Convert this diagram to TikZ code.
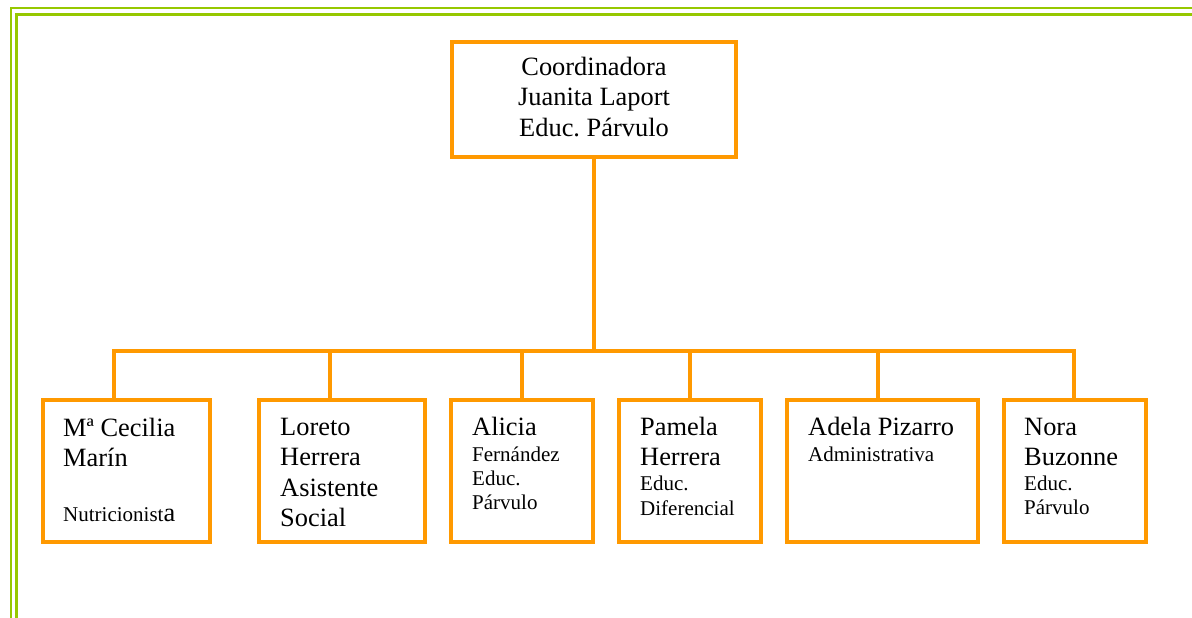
\documentclass[tikz,border=0pt]{standalone}
\usepackage{fontspec}
\setmainfont{Liberation Serif}
\frenchspacing
\definecolor{orgline}{RGB}{255,153,0}
\definecolor{grnline}{RGB}{150,200,0}
\newcommand\smtxt{\fontsize{21}{24}\selectfont}
\newcommand\lgtxt{\fontsize{26.4}{30.4}\selectfont}
\begin{document}
\begin{tikzpicture}[x=1pt,y=-1pt,
  box/.style={draw=orgline, line width=4pt, rectangle, inner sep=0pt, outer sep=0pt, anchor=north west},
  conn/.style={draw=orgline, line width=3.2pt, line join=miter},
  frame/.style={draw=grnline, line width=2.8pt},
  txt/.style={inner sep=0pt, anchor=north west, align=left, font=\lgtxt\frenchspacing, text=black},
  ttxt/.style={inner sep=0pt, anchor=north, align=center, font=\lgtxt\frenchspacing, text=black}]
\useasboundingbox (0,0) rectangle (1192,618);
% decorative page border
\draw[frame] (1192,8) -- (11,8) -- (11,618);
\draw[frame] (1192,14.5) -- (16.5,14.5) -- (16.5,618);
% boxes
\node[box, minimum width=284pt, minimum height=115pt] (top) at (452,42) {};
\node[box, minimum width=167pt, minimum height=142pt] (b1) at (43,400) {};
\node[box, minimum width=166pt, minimum height=142pt] (b2) at (259,400) {};
\node[box, minimum width=142pt, minimum height=142pt] (b3) at (451,400) {};
\node[box, minimum width=142pt, minimum height=142pt] (b4) at (619,400) {};
\node[box, minimum width=191pt, minimum height=142pt] (b5) at (787,400) {};
\node[box, minimum width=142pt, minimum height=142pt] (b6) at (1004,400) {};
% connectors
\coordinate (j1) at (114,351);
\coordinate (j2) at (330,351);
\coordinate (j3) at (522,351);
\coordinate (j4) at (690,351);
\coordinate (j5) at (878,351);
\coordinate (j6) at (1074,351);
\draw[conn] (j1 |- b1.north) -- (j1) -- (j6) -- (j6 |- b6.north);
\draw[conn] (top.south) -- (top.south |- j1);
\draw[conn] (j2) -- (j2 |- b2.north);
\draw[conn] (j3) -- (j3 |- b3.north);
\draw[conn] (j4) -- (j4 |- b4.north);
\draw[conn] (j5) -- (j5 |- b5.north);
% texts
\node[ttxt] (ttop) at (594,55) {\rule{0pt}{20pt}Coordinadora\\Juanita Laport\\Educ. Párvulo};
\node[txt] (t1) at (63,416) {\rule{0pt}{20pt}Mª Cecilia\\Marín\\[24.6pt]{\smtxt Nutricionist}a};
\node[txt] (t2) at (280,415) {\rule{0pt}{20pt}Loreto\\Herrera\\Asistente\\Social};
\node[txt] (t3) at (472,415) {\rule{0pt}{20pt}Alicia\\[-4.4pt]{\smtxt Fernández}\\[-6.4pt]{\smtxt Educ.}\\[-6.4pt]{\smtxt Párvulo}};
\node[txt] (t4) at (640,415) {\rule{0pt}{20pt}Pamela\\Herrera\\[-5.4pt]{\smtxt Educ.}\\[-5.4pt]{\smtxt Diferencial}};
\node[txt] (t5) at (808,415) {\rule{0pt}{20pt}Adela Pizarro\\[-4.4pt]{\smtxt Administrativa}};
\node[txt] (t6) at (1024,415) {\rule{0pt}{20pt}Nora\\Buzonne\\[-5.4pt]{\smtxt Educ.}\\[-6.4pt]{\smtxt Párvulo}};
\end{tikzpicture}
\end{document}
